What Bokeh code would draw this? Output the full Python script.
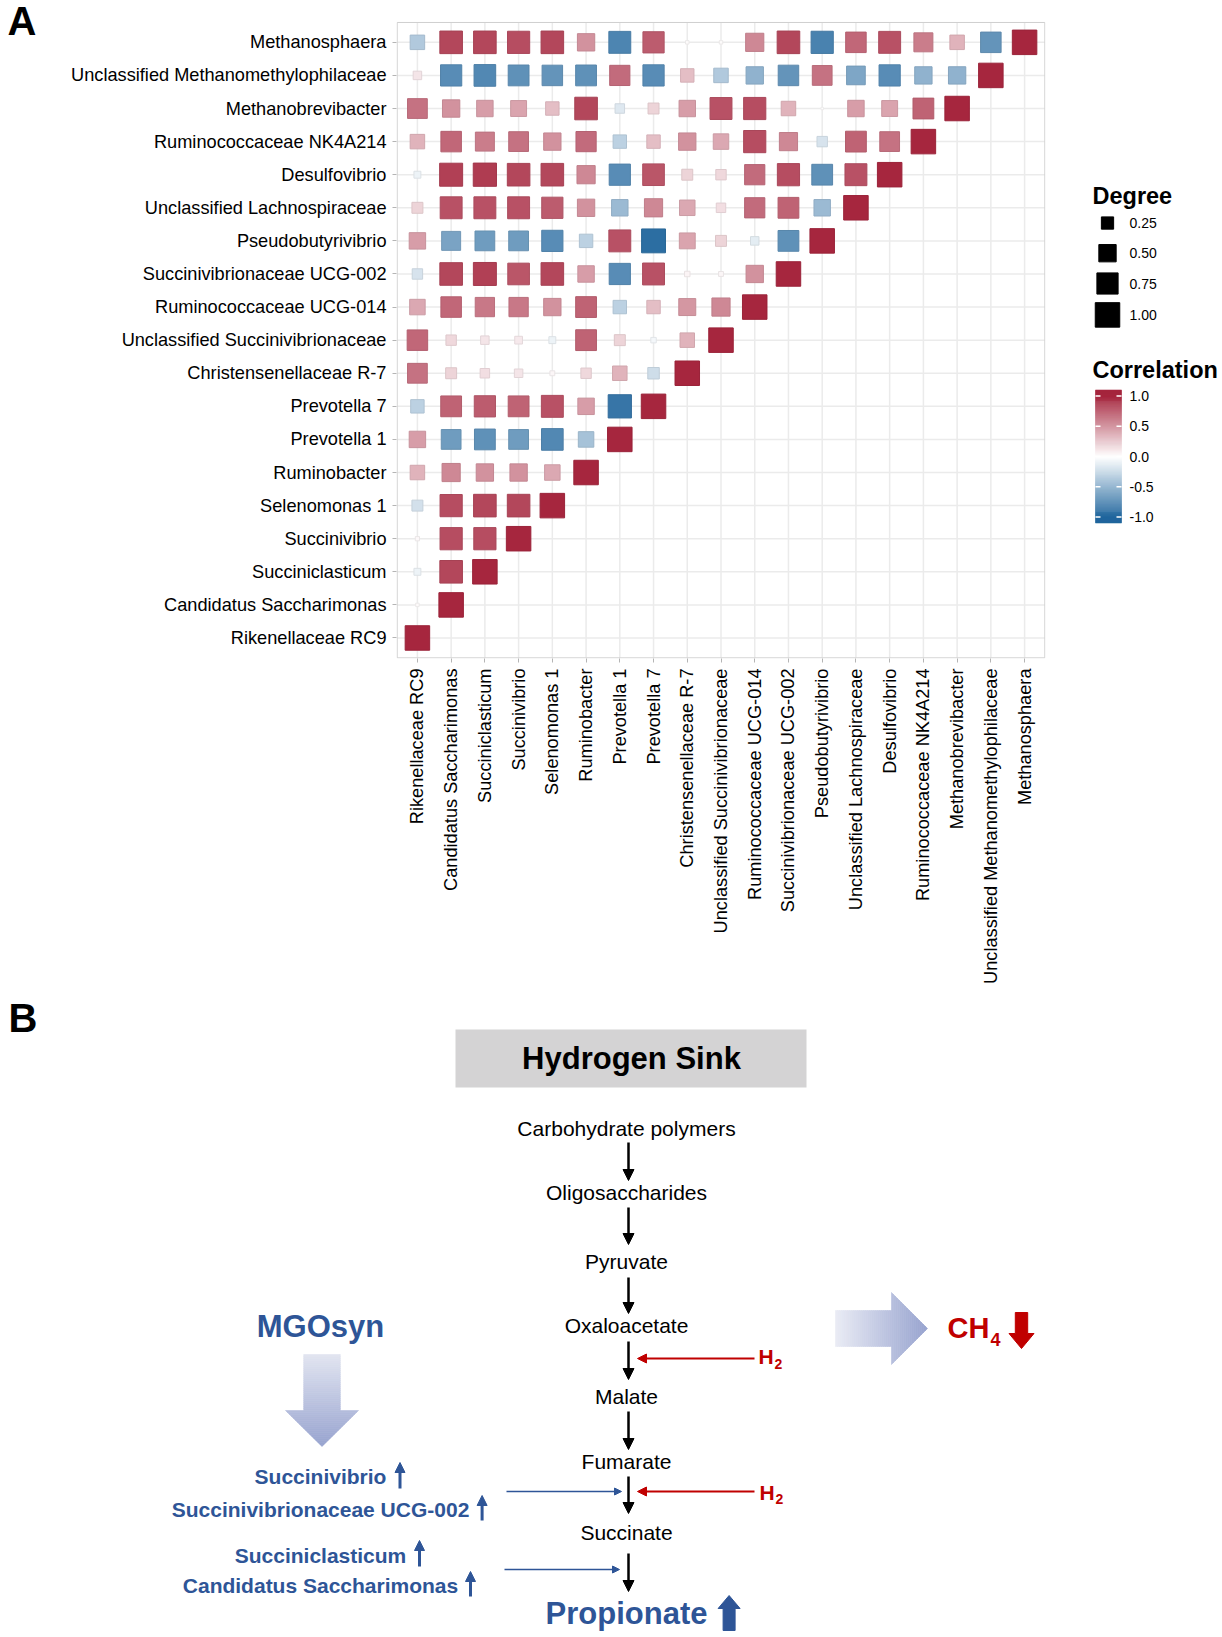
import numpy as np
from bokeh.plotting import figure
from bokeh.layouts import column, row
from bokeh.models import Range1d, Arrow, NormalHead, ColumnDataSource, FixedTicker
from bokeh.core.properties import value
from bokeh.embed import file_html
from bokeh.resources import INLINE

FONT = "Liberation Sans"

# ------------------------------------------------------------------ data
taxa = [
    "Rikenellaceae RC9", "Candidatus Saccharimonas", "Succiniclasticum", "Succinivibrio",
    "Selenomonas 1", "Ruminobacter", "Prevotella 1", "Prevotella 7",
    "Christensenellaceae R-7", "Unclassified Succinivibrionaceae", "Ruminococcaceae UCG-014",
    "Succinivibrionaceae UCG-002", "Pseudobutyrivibrio", "Unclassified Lachnospiraceae",
    "Desulfovibrio", "Ruminococcaceae NK4A214", "Methanobrevibacter",
    "Unclassified Methanomethylophilaceae", "Methanosphaera",
]

# lower-triangle correlations: each list = correlations of that taxon with taxa[0..k]
corr_rikenellaceae_rc9 = [1.00]
corr_candidatus_saccharimonas = [0.02, 1.00]
corr_succiniclasticum = [-0.08, 0.85, 1.00]
corr_succinivibrio = [0.03, 0.82, 0.82, 1.00]
corr_selenomonas_1 = [-0.20, 0.82, 0.85, 0.85, 1.00]
corr_ruminobacter = [0.35, 0.55, 0.50, 0.50, 0.40, 1.00]
corr_prevotella_1 = [0.45, -0.65, -0.72, -0.65, -0.78, -0.40, 1.00]
corr_prevotella_7 = [-0.30, 0.72, 0.75, 0.72, 0.80, 0.45, -0.90, 1.00]
corr_christensenellaceae_r7 = [0.65, 0.20, 0.15, 0.12, 0.04, 0.18, 0.35, -0.22, 1.00]
corr_uncl_succinivibrionaceae = [0.70, 0.18, 0.12, 0.10, -0.08, 0.72, 0.20, -0.05, 0.35, 1.00]
corr_ruminococcaceae_ucg014 = [0.40, 0.70, 0.62, 0.62, 0.50, 0.72, -0.30, 0.30, 0.48, 0.55, 1.00]
corr_succinivibrionaceae_ucg002 = [-0.18, 0.85, 0.88, 0.78, 0.85, 0.45, -0.75, 0.80, 0.05, 0.04, 0.50, 1.00]
corr_pseudobutyrivibrio = [0.45, -0.60, -0.65, -0.65, -0.75, -0.30, 0.80, -0.95, 0.42, 0.20, -0.12, -0.72, 1.00]
corr_uncl_lachnospiraceae = [0.20, 0.80, 0.80, 0.80, 0.75, 0.50, -0.45, 0.55, 0.40, 0.15, 0.68, 0.72, -0.45, 1.00]
corr_desulfovibrio = [-0.08, 0.88, 0.90, 0.85, 0.85, 0.55, -0.75, 0.78, 0.20, 0.18, 0.68, 0.82, -0.72, 0.80, 1.00]
corr_ruminococcaceae_nk4a214 = [0.35, 0.70, 0.60, 0.65, 0.50, 0.68, -0.30, 0.30, 0.50, 0.40, 0.82, 0.55, -0.18, 0.72, 0.65, 1.00]
corr_methanobrevibacter = [0.65, 0.50, 0.45, 0.42, 0.30, 0.85, -0.15, 0.20, 0.45, 0.80, 0.82, 0.35, 0.01, 0.45, 0.42, 0.72, 1.00]
corr_uncl_methanomethylophilaceae = [0.12, -0.75, -0.78, -0.72, -0.70, -0.72, 0.68, -0.75, 0.30, -0.35, -0.50, -0.70, 0.65, -0.58, -0.75, -0.50, -0.50, 1.00]
corr_methanosphaera = [-0.35, 0.85, 0.85, 0.82, 0.85, 0.50, -0.80, 0.75, 0.02, 0.02, 0.55, 0.85, -0.82, 0.70, 0.80, 0.60, 0.35, -0.70, 1.00]

corr_by_taxon = [
    corr_rikenellaceae_rc9, corr_candidatus_saccharimonas, corr_succiniclasticum,
    corr_succinivibrio, corr_selenomonas_1, corr_ruminobacter, corr_prevotella_1,
    corr_prevotella_7, corr_christensenellaceae_r7, corr_uncl_succinivibrionaceae,
    corr_ruminococcaceae_ucg014, corr_succinivibrionaceae_ucg002, corr_pseudobutyrivibrio,
    corr_uncl_lachnospiraceae, corr_desulfovibrio, corr_ruminococcaceae_nk4a214,
    corr_methanobrevibacter, corr_uncl_methanomethylophilaceae, corr_methanosphaera,
]

degree_levels = [0.25, 0.50, 0.75, 1.00]
degree_labels = ["0.25", "0.50", "0.75", "1.00"]
corr_ticks = [1.0, 0.5, 0.0, -0.5, -1.0]
corr_tick_labels = ["1.0", "0.5", "0.0", "-0.5", "-1.0"]

panel_b_title = "Hydrogen Sink"
pathway_steps = ["Carbohydrate polymers", "Oligosaccharides", "Pyruvate", "Oxaloacetate",
                 "Malate", "Fumarate", "Succinate"]
product_label = "Propionate"
treatment_label = "MGOsyn"
increased_taxa = ["Succinivibrio", "Succinivibrionaceae UCG-002", "Succiniclasticum",
                  "Candidatus Saccharimonas"]

# ------------------------------------------------------------------ styles
NEG_END = (33, 102, 157)
POS_END = (166, 38, 62)
BLUE = "#2E5597"
RED = "#C00000"
SIDE = 24.5
PAD = 0.6
TOP_H = 988          # height of the top row of figures (panel A)


def corr_rgb(r):
    t = min(abs(r), 1.0)
    end = POS_END if r >= 0 else NEG_END
    return tuple(int(round(255 + (e - 255) * t)) for e in end)


def hexc(rgb):
    return "#%02x%02x%02x" % tuple(int(max(0, min(255, c))) for c in rgb)


def corr_color(r):
    return hexc(corr_rgb(r))


def corr_edge(r):
    return hexc(tuple(c * 0.93 for c in corr_rgb(r)))


def corr_size(r):
    return SIDE * np.sqrt(abs(r))


def mix(c0, c1, t):
    return hexc(tuple(a + (b - a) * t for a, b in zip(c0, c1)))


def txt(p, x, y, s, size, color="black", bold=False, align="center"):
    p.text(x=x, y=y, text=s, text_font=value(FONT), text_font_size=value(size),
           text_font_style="bold" if bold else "normal", text_color=color,
           text_align=align, text_baseline="middle")


# ------------------------------------------------------------------ panel A
n = len(taxa)
idx = list(range(n))
xs, ys, vals = [], [], []
for k, vk in enumerate(corr_by_taxon):
    for j, v in enumerate(vk):
        xs.append(j)
        ys.append(k)
        vals.append(v)

srcA = ColumnDataSource(dict(
    x=xs, y=ys, r=vals,
    size=[corr_size(v) for v in vals],
    fill=[corr_color(v) for v in vals],
    edge=[corr_edge(v) for v in vals],
))

TOP_EXTRA = 22 / 33.125  # blank strip above the panel, in row units
pA = figure(width=1008, height=TOP_H,
            x_range=Range1d(-PAD - 0.02, n - 1 + PAD + 0.02),
            y_range=Range1d(-PAD - 0.02, n - 1 + PAD + TOP_EXTRA),
            output_backend="svg", toolbar_location=None,
            min_border_left=336, min_border_right=23, min_border_top=0,
            min_border_bottom=TOP_H - 658,
            background_fill_color="white", border_fill_color="white")
pA.xgrid.visible = False
pA.ygrid.visible = False
pA.outline_line_color = None

# grid lines and panel border
pA.segment(x0=idx, x1=idx, y0=[-PAD] * n, y1=[n - 1 + PAD] * n, line_color="#EBEBEB", line_width=1.5)
pA.segment(x0=[-PAD] * n, x1=[n - 1 + PAD] * n, y0=idx, y1=idx, line_color="#EBEBEB", line_width=1.5)
pA.quad(left=[-PAD], right=[n - 1 + PAD], bottom=[-PAD], top=[n - 1 + PAD],
        fill_color=None, line_color="#CFCFCF", line_width=1)

pA.scatter("x", "y", source=srcA, marker="square", size="size",
           fill_color="fill", line_color="edge", line_width=1)

for ax in (pA.xaxis[0], pA.yaxis[0]):
    ax.ticker = FixedTicker(ticks=idx)
    ax.major_label_overrides = {i: t for i, t in enumerate(taxa)}
    ax.axis_line_color = None
    ax.minor_tick_line_color = None
    ax.major_tick_line_color = "#B5B5B5"
    ax.major_tick_out = 4
    ax.major_tick_in = 0
    ax.major_label_text_font = FONT
    ax.major_label_text_font_size = "18.2px"
    ax.major_label_text_color = "black"
    ax.major_label_standoff = 6
pA.xaxis.major_label_orientation = np.pi / 2

# panel letter A (separate narrow strip on the left)
pLet = figure(width=60, height=TOP_H, x_range=Range1d(0, 60), y_range=Range1d(658, 0),
              output_backend="svg", toolbar_location=None, x_axis_type=None, y_axis_type=None,
              min_border=0, background_fill_color="white", border_fill_color="white")
pLet.outline_line_color = None
pLet.grid.visible = False
txt(pLet, [7], [20], ["A"], "40px", bold=True, align="left")

# ------------------------------------------------------------------ legends
pL = figure(width=154, height=TOP_H, x_range=Range1d(1068, 1222), y_range=Range1d(658, 0),
            output_backend="svg", toolbar_location=None, x_axis_type=None, y_axis_type=None,
            min_border=0, background_fill_color="white", border_fill_color="white")
pL.outline_line_color = None
pL.grid.visible = False

txt(pL, [1092, 1092], [195, 369.5], ["Degree", "Correlation"], "23.5px", bold=True, align="left")

deg_y = [222.5, 252.7, 283.0, 314.4]
pL.scatter(x=[1107] * len(degree_levels), y=deg_y, marker="square",
           size=[corr_size(v) for v in degree_levels], fill_color="black", line_color="black")
txt(pL, [1129] * len(degree_levels), deg_y, degree_labels, "14px", align="left")

CB_MID, CB_SCALE = 456.0, 60.5
edges = np.linspace(-1.1, 1.1, 135)
mids = [float(np.clip((a + b) / 2, -1, 1)) for a, b in zip(edges[:-1], edges[1:])]
pL.quad(left=1095, right=1121,
        top=[CB_MID - CB_SCALE * e for e in edges[1:]],
        bottom=[CB_MID - CB_SCALE * e for e in edges[:-1]],
        fill_color=[corr_color(m) for m in mids], line_color=[corr_color(m) for m in mids],
        line_width=0.5)
tick_y = [CB_MID - CB_SCALE * t for t in corr_ticks]
pL.segment(x0=[1095] * 5, x1=[1100] * 5, y0=tick_y, y1=tick_y, line_color="white", line_width=1.5)
pL.segment(x0=[1116] * 5, x1=[1121] * 5, y0=tick_y, y1=tick_y, line_color="white", line_width=1.5)
txt(pL, [1129] * 5, tick_y, corr_tick_labels, "14px", align="left")

# ------------------------------------------------------------------ panel B
pB = figure(width=1222, height=1637 - TOP_H, x_range=Range1d(0, 1222), y_range=Range1d(1637, TOP_H),
            output_backend="svg", toolbar_location=None, x_axis_type=None, y_axis_type=None,
            min_border=0, background_fill_color="white", border_fill_color="white")
pB.outline_line_color = None
pB.grid.visible = False

txt(pB, [8], [1017.5], ["B"], "40px", bold=True, align="left")

# title box
pB.quad(left=455, right=806, top=1029, bottom=1087, fill_color="#D4D3D4", line_color=None)
txt(pB, [631], [1058], [panel_b_title], "31px", bold=True)

# pathway
PATH_X = 628
path_centers = [1128, 1192, 1261, 1325, 1395.5, 1460.5, 1531.5]
txt(pB, [626] * len(pathway_steps), path_centers, pathway_steps, "21px")
txt(pB, [626], [1613], [product_label], "31px", color=BLUE, bold=True)

path_arrow_spans = [(1142, 1180), (1207, 1244), (1277, 1313), (1341, 1379),
                    (1411, 1449), (1476, 1513), (1553, 1591)]


def add_arrow(p, x0, y0, x1, y1, color, lw, head):
    p.add_layout(Arrow(x_start=x0, y_start=y0, x_end=x1, y_end=y1,
                       line_color=color, line_width=lw,
                       end=NormalHead(size=head, fill_color=color, line_color=color, line_width=1)))


for (a, b) in path_arrow_spans:
    add_arrow(pB, PATH_X, a, PATH_X, b, "black", 2.5, 11)

# hydrogen inputs (red)
for yy in (1358, 1491):
    add_arrow(pB, 754, yy, 637, yy, RED, 2, 9)
txt(pB, [758, 759], [1356, 1491.5], ["H", "H"], "21px", color=RED, bold=True, align="left")
txt(pB, [774, 775], [1363.5, 1498.5], ["2", "2"], "14px", color=RED, bold=True, align="left")

# microbial inputs (blue)
add_arrow(pB, 506, 1491, 621, 1491, BLUE, 1.5, 7)
add_arrow(pB, 504, 1569, 619, 1569, BLUE, 1.5, 7)

# MGOsyn
txt(pB, [320], [1326], [treatment_label], "31px", color=BLUE, bold=True)

# gradient down arrow under MGOsyn
DA_CX, DA_TOP, DA_NECK, DA_TIP, DA_SH, DA_HH = 321.5, 1354, 1410, 1446, 18.3, 36.5
DA_C0, DA_C1 = (226, 229, 241), (151, 163, 207)
e1 = np.linspace(DA_TOP, DA_NECK, 29)
e2 = np.linspace(DA_NECK, DA_TIP, 19)
bands = [(a, b, "shaft") for a, b in zip(e1[:-1], e1[1:])] + [(a, b, "head") for a, b in zip(e2[:-1], e2[1:])]
pxs, pys, pcs = [], [], []
for y0, y1, part in bands:
    if part == "shaft":
        h0 = h1 = DA_SH
    else:
        h0 = DA_HH * (DA_TIP - y0) / (DA_TIP - DA_NECK)
        h1 = DA_HH * (DA_TIP - y1) / (DA_TIP - DA_NECK)
    pxs.append([DA_CX - h0, DA_CX + h0, DA_CX + h1, DA_CX - h1])
    pys.append([y0, y0, y1, y1])
    pcs.append(mix(DA_C0, DA_C1, ((y0 + y1) / 2 - DA_TOP) / (DA_TIP - DA_TOP)))
pB.patches(xs=pxs, ys=pys, fill_color=pcs, line_color=pcs, line_width=0.6)

# gradient right arrow toward CH4
RA_CY, RA_L, RA_NECK, RA_TIP, RA_SH, RA_HH = 1328, 835, 891, 927, 18, 36
RA_C0, RA_C1 = (234, 236, 245), (151, 163, 207)
e1 = np.linspace(RA_L, RA_NECK, 29)
e2 = np.linspace(RA_NECK, RA_TIP, 19)
bands = [(a, b, "shaft") for a, b in zip(e1[:-1], e1[1:])] + [(a, b, "head") for a, b in zip(e2[:-1], e2[1:])]
pxs, pys, pcs = [], [], []
for x0, x1, part in bands:
    if part == "shaft":
        h0 = h1 = RA_SH
    else:
        h0 = RA_HH * (RA_TIP - x0) / (RA_TIP - RA_NECK)
        h1 = RA_HH * (RA_TIP - x1) / (RA_TIP - RA_NECK)
    pxs.append([x0, x1, x1, x0])
    pys.append([RA_CY - h0, RA_CY - h1, RA_CY + h1, RA_CY + h0])
    pcs.append(mix(RA_C0, RA_C1, ((x0 + x1) / 2 - RA_L) / (RA_TIP - RA_L)))
pB.patches(xs=pxs, ys=pys, fill_color=pcs, line_color=pcs, line_width=0.6)

# CH4 with red down arrow
txt(pB, [947], [1327], ["CH"], "29px", color=RED, bold=True, align="left")
txt(pB, [990], [1338.5], ["4"], "18px", color=RED, bold=True, align="left")
cx = 1021
pB.patch(x=[cx - 6.2, cx + 6.2, cx + 6.2, cx + 12.5, cx, cx - 12.5, cx - 6.2],
         y=[1312, 1312, 1333, 1333, 1348, 1333, 1333], fill_color=RED, line_color=RED)

# Propionate bold up arrow
cx = 728.6
pB.patch(x=[cx, cx + 11, cx + 6, cx + 6, cx - 6, cx - 6, cx - 11],
         y=[1595, 1608, 1608, 1630, 1630, 1608, 1608], fill_color=BLUE, line_color=BLUE)

# increased taxa labels with small up arrows
taxa_centers = [1476, 1508.5, 1555, 1584.5]
txt(pB, [320] * len(increased_taxa), taxa_centers, increased_taxa, "21px", color=BLUE, bold=True)
up_arrow_x = [399.5, 481.6, 419.0, 470.0]
up_arrow_spans = [(1488, 1462), (1520, 1495), (1566, 1540), (1596, 1571)]
for ax_, (b, t) in zip(up_arrow_x, up_arrow_spans):
    add_arrow(pB, ax_, b, ax_, t, BLUE, 3, 10)

layout = column(row(pLet, pA, pL), pB)
open("out.html", "w").write(file_html(layout, INLINE))
